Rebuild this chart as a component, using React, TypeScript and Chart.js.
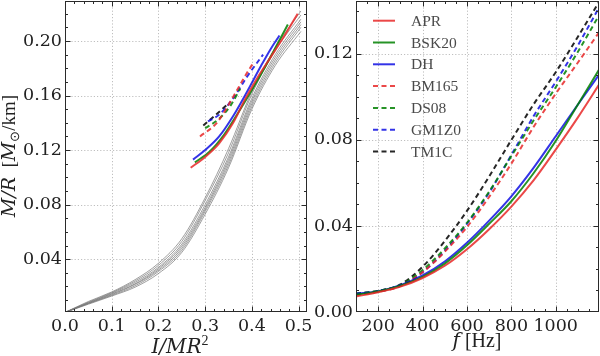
import React, { useEffect, useRef } from "react";
import { Chart, registerables } from "chart.js";

Chart.register(...registerables);

// ---------------- Left panel: M/R vs I/MR^2 ----------------
const grayX = [0, 0.05, 0.1, 0.15, 0.2, 0.25, 0.3, 0.35, 0.4, 0.45, 0.505];
const grayA = [0.001, 0.009, 0.016, 0.025, 0.037, 0.055, 0.085, 0.121, 0.163, 0.195, 0.222];
const grayB = [0.001, 0.0085, 0.0155, 0.024, 0.0355, 0.053, 0.083, 0.118, 0.161, 0.193, 0.219];
const grayC = [0.001, 0.008, 0.015, 0.023, 0.034, 0.051, 0.08, 0.115, 0.158, 0.19, 0.216];
const grayD = [0.001, 0.008, 0.0145, 0.022, 0.033, 0.0495, 0.078, 0.113, 0.156, 0.188, 0.214];
const grayE = [0.001, 0.0075, 0.014, 0.0215, 0.032, 0.048, 0.0765, 0.111, 0.154, 0.186, 0.212];
const grayF = [0.001, 0.0075, 0.0135, 0.0205, 0.031, 0.0465, 0.075, 0.109, 0.152, 0.184, 0.21];
const grayG = [0.001, 0.007, 0.013, 0.0195, 0.0295, 0.045, 0.073, 0.107, 0.15, 0.182, 0.207];
const grayCurves = [grayA, grayB, grayC, grayD, grayE, grayF, grayG];

const aprLeftX = [0.269, 0.3, 0.33, 0.36, 0.385, 0.41, 0.44, 0.47, 0.498];
const aprLeftY = [0.107, 0.115, 0.125, 0.14, 0.157, 0.172, 0.188, 0.204, 0.22];
const bsk20LeftX = [0.278, 0.31, 0.34, 0.37, 0.4, 0.43, 0.455, 0.477];
const bsk20LeftY = [0.111, 0.119, 0.131, 0.147, 0.164, 0.182, 0.198, 0.212];
const dhLeftX = [0.274, 0.3, 0.33, 0.36, 0.39, 0.42, 0.44, 0.459];
const dhLeftY = [0.113, 0.12, 0.13, 0.145, 0.163, 0.182, 0.194, 0.204];
const bm165LeftX = [0.289, 0.325, 0.36, 0.385, 0.405];
const bm165LeftY = [0.13, 0.14, 0.159, 0.174, 0.185];
const ds08LeftX = [0.3, 0.33, 0.355, 0.375];
const ds08LeftY = [0.136, 0.143, 0.153, 0.165];
const gm1z0LeftX = [0.306, 0.33, 0.36, 0.39, 0.424];
const gm1z0LeftY = [0.141, 0.146, 0.158, 0.174, 0.19];
const tm1cLeftX = [0.296, 0.32, 0.346];
const tm1cLeftY = [0.138, 0.145, 0.153];

const leftXTicks = [0, 0.1, 0.2, 0.3, 0.4, 0.5];
const leftYTicks = [0.04, 0.08, 0.12, 0.16, 0.2];

// ---------------- Right panel: M/R vs f ----------------
const freqHz = [100, 200, 300, 400, 500, 600, 700, 800, 900, 1000, 1100, 1200];
const aprRight = [0.0072, 0.0092, 0.0118, 0.0158, 0.0215, 0.0292, 0.0385, 0.049, 0.0612, 0.0755, 0.0905, 0.1065];
const bsk20Right = [0.008, 0.0095, 0.0122, 0.0163, 0.0225, 0.031, 0.041, 0.0515, 0.0645, 0.0795, 0.0965, 0.1135];
const dhRight = [0.0085, 0.0097, 0.0125, 0.017, 0.0235, 0.0322, 0.0425, 0.0538, 0.067, 0.0817, 0.0965, 0.111];
const bm165Right = [0.0078, 0.0094, 0.012, 0.0185, 0.028, 0.0395, 0.0535, 0.069, 0.086, 0.1015, 0.116, 0.1307];
const ds08Right = [0.0085, 0.0098, 0.0125, 0.0195, 0.0295, 0.0415, 0.056, 0.0725, 0.089, 0.1045, 0.121, 0.1388];
const gm1z0Right = [0.0085, 0.0096, 0.0122, 0.0185, 0.0285, 0.041, 0.0555, 0.073, 0.091, 0.107, 0.124, 0.1425];
const tm1cRight = [0.0085, 0.0098, 0.0128, 0.021, 0.033, 0.047, 0.063, 0.08, 0.0965, 0.1115, 0.128, 0.145];

const rightXTicks = [200, 400, 600, 800, 1000];
const rightYTicks = [0, 0.04, 0.08, 0.12];

const seriesNames = ["APR", "BSK20", "DH", "BM165", "DS08", "GM1Z0", "TM1C"];
const seriesColors = [
  "rgba(232,40,40,0.85)",
  "rgba(0,128,0,0.85)",
  "rgba(0,0,225,0.8)",
  "rgba(232,40,40,0.85)",
  "rgba(0,128,0,0.85)",
  "rgba(0,0,225,0.8)",
  "rgba(0,0,0,0.85)",
];
const seriesDashed = [false, false, false, true, true, true, true];
const leftSeriesX = [aprLeftX, bsk20LeftX, dhLeftX, bm165LeftX, ds08LeftX, gm1z0LeftX, tm1cLeftX];
const leftSeriesY = [aprLeftY, bsk20LeftY, dhLeftY, bm165LeftY, ds08LeftY, gm1z0LeftY, tm1cLeftY];
const rightSeriesY = [aprRight, bsk20Right, dhRight, bm165Right, ds08Right, gm1z0Right, tm1cRight];

const DASH = [5, 3.5];
const SERIF = '"DejaVu Serif", serif';
const LEGEND_FONT = '15.5px "Liberation Serif", serif';
const TICK_FONT = { family: SERIF, size: 17.5 };

const pts = (xs: number[], ys: number[]) => xs.map((x, i) => ({ x, y: ys[i] }));

type Run = { t: string; it?: boolean; sub?: boolean; sup?: boolean };

function runFont(r: Run, size: number) {
  const s = r.sub || r.sup ? size * 0.7 : size;
  const fam = r.it ? SERIF : '"Liberation Serif", serif';
  return `${r.it ? "italic " : ""}${s}px ${fam}`;
}

function drawRuns(ctx: CanvasRenderingContext2D, runs: Run[], cx: number, baseline: number, size: number) {
  let total = 0;
  for (const r of runs) {
    ctx.font = runFont(r, size);
    total += ctx.measureText(r.t).width;
  }
  let x = cx - total / 2;
  ctx.textAlign = "left";
  ctx.textBaseline = "alphabetic";
  for (const r of runs) {
    ctx.font = runFont(r, size);
    const dy = r.sub ? size * 0.22 : r.sup ? -size * 0.42 : 0;
    ctx.fillText(r.t, x, baseline + dy);
    x += ctx.measureText(r.t).width;
  }
}

function axesDecor(xMajor: number[], yMajor: number[], xMinorStep: number, yMinorStep: number) {
  return {
    id: "axesDecor",
    beforeDatasetsDraw(chart: any) {
      const { ctx, chartArea: a, scales } = chart;
      ctx.save();
      ctx.strokeStyle = "#b8b8b8";
      ctx.lineWidth = 0.9;
      ctx.setLineDash([1.2, 2]);
      ctx.beginPath();
      for (const v of xMajor) {
        const px = Math.round(scales.x.getPixelForValue(v)) + 0.5;
        if (px <= a.left + 1 || px >= a.right - 1) continue;
        ctx.moveTo(px, a.top);
        ctx.lineTo(px, a.bottom);
      }
      for (const v of yMajor) {
        const py = Math.round(scales.y.getPixelForValue(v)) + 0.5;
        if (py <= a.top + 1 || py >= a.bottom - 1) continue;
        ctx.moveTo(a.left, py);
        ctx.lineTo(a.right, py);
      }
      ctx.stroke();
      ctx.restore();
    },
    afterDatasetsDraw(chart: any) {
      const { ctx, chartArea: a, scales } = chart;
      const xs = scales.x;
      const ys = scales.y;
      ctx.save();
      ctx.strokeStyle = "#2a2a2a";
      ctx.lineWidth = 1;
      ctx.setLineDash([]);
      const L = Math.round(a.left) + 0.5;
      const R = Math.round(a.right) - 0.5;
      const T = Math.round(a.top) + 0.5;
      const B = Math.round(a.bottom) - 0.5;
      ctx.strokeRect(L, T, R - L, B - T);
      ctx.beginPath();
      const xTick = (v: number, len: number) => {
        const px = Math.round(xs.getPixelForValue(v)) + 0.5;
        if (px < L || px > R) return;
        ctx.moveTo(px, B);
        ctx.lineTo(px, B - len);
        ctx.moveTo(px, T);
        ctx.lineTo(px, T + len);
      };
      const yTick = (v: number, len: number) => {
        const py = Math.round(ys.getPixelForValue(v)) + 0.5;
        if (py < T || py > B) return;
        ctx.moveTo(L, py);
        ctx.lineTo(L + len, py);
        ctx.moveTo(R, py);
        ctx.lineTo(R - len, py);
      };
      for (let v = Math.ceil(xs.min / xMinorStep - 1e-9) * xMinorStep; v <= xs.max + 1e-9; v += xMinorStep) xTick(v, 2.5);
      for (let v = Math.ceil(ys.min / yMinorStep - 1e-9) * yMinorStep; v <= ys.max + 1e-9; v += yMinorStep) yTick(v, 2.5);
      for (const v of xMajor) xTick(v, 5);
      for (const v of yMajor) yTick(v, 5);
      ctx.stroke();
      ctx.restore();
    },
  };
}

function titlesPlugin(draw: (ctx: CanvasRenderingContext2D, chart: any) => void) {
  return {
    id: "titles",
    afterDraw(chart: any) {
      const ctx = chart.ctx;
      ctx.save();
      ctx.fillStyle = "#222";
      draw(ctx, chart);
      ctx.restore();
    },
  };
}

const legendPlugin = {
  id: "insideLegend",
  afterDraw(chart: any) {
    const { ctx, chartArea: a } = chart;
    ctx.save();
    seriesNames.forEach((name, i) => {
      const y = a.top + 19.7 + i * 21.8;
      ctx.beginPath();
      ctx.strokeStyle = seriesColors[i];
      ctx.lineWidth = 2;
      ctx.setLineDash(seriesDashed[i] ? DASH : []);
      ctx.moveTo(a.left + 17, y);
      ctx.lineTo(a.left + 39, y);
      ctx.stroke();
      ctx.setLineDash([]);
      ctx.fillStyle = "#4a4a4a";
      ctx.font = LEGEND_FONT;
      ctx.textAlign = "left";
      ctx.textBaseline = "middle";
      ctx.fillText(name, a.left + 55, y + 1);
    });
    ctx.restore();
  },
};

function makeScales(
  xMin: number,
  xMax: number,
  yMin: number,
  yMax: number,
  xTicks: number[],
  yTicks: number[],
  yWidth: number,
  xFmt: (v: number) => string,
  yFmt: (v: number) => string
) {
  return {
    x: {
      type: "linear",
      bounds: "data",
      min: xMin,
      max: xMax,
      grid: { display: false, drawTicks: false },
      border: { display: false },
      afterBuildTicks: (s: any) => {
        s.ticks = xTicks.map((value) => ({ value }));
      },
      afterFit: (s: any) => {
        s.height = 44;
        s.paddingLeft = 0;
        s.paddingRight = 0;
      },
      ticks: {
        font: TICK_FONT,
        color: "#222",
        padding: 4,
        maxRotation: 0,
        autoSkip: false,
        callback: (v: any) => xFmt(Number(v)),
      },
    },
    y: {
      type: "linear",
      bounds: "data",
      min: yMin,
      max: yMax,
      grid: { display: false, drawTicks: false },
      border: { display: false },
      afterBuildTicks: (s: any) => {
        s.ticks = yTicks.map((value) => ({ value }));
      },
      afterFit: (s: any) => {
        s.width = yWidth;
        s.paddingTop = 0;
        s.paddingBottom = 0;
      },
      ticks: {
        font: TICK_FONT,
        color: "#222",
        padding: 3,
        autoSkip: false,
        callback: (v: any) => yFmt(Number(v)),
      },
    },
  };
}

function leftConfig(): any {
  const datasets: any[] = [];
  grayCurves.forEach((ys) => {
    datasets.push({
      data: pts(grayX, ys),
      borderColor: "rgba(120,120,120,0.72)",
      borderWidth: 1,
      pointRadius: 0,
      showLine: true,
      cubicInterpolationMode: "monotone",
      order: 10,
    });
  });
  seriesNames.forEach((name, i) => {
    datasets.push({
      label: name,
      data: pts(leftSeriesX[i], leftSeriesY[i]),
      borderColor: seriesColors[i],
      borderWidth: 2,
      borderDash: seriesDashed[i] ? DASH : [],
      pointRadius: 0,
      showLine: true,
      cubicInterpolationMode: "monotone",
      order: 1,
    });
  });
  return {
    type: "scatter",
    data: { datasets },
    options: {
      responsive: false,
      maintainAspectRatio: false,
      animation: false,
      layout: { padding: { top: 1, right: 13, left: 0, bottom: 0 } },
      plugins: { legend: { display: false }, tooltip: { enabled: false } },
      scales: makeScales(0, 0.518, 0.0013, 0.2293, leftXTicks, leftYTicks, 65, (v) => v.toFixed(1), (v) => v.toFixed(2)),
    },
    plugins: [
      axesDecor(leftXTicks, leftYTicks, 0.02, 0.01),
      titlesPlugin((ctx) => {
        drawRuns(ctx, [{ t: "I/MR", it: true }, { t: "2", sup: true }], 180, 353, 20);
        ctx.translate(15, 156);
        ctx.rotate(-Math.PI / 2);
        drawRuns(
          ctx,
          [
            { t: "M/R", it: true },
            { t: "  [" },
            { t: "M", it: true },
            { t: "\u2299", sub: true },
            { t: "/km]" },
          ],
          0,
          0,
          19
        );
      }),
    ],
  };
}

function rightConfig(): any {
  const datasets = seriesNames.map((name, i) => ({
    label: name,
    data: pts(freqHz, rightSeriesY[i]),
    borderColor: seriesColors[i],
    borderWidth: 2,
    borderDash: seriesDashed[i] ? DASH : [],
    pointRadius: 0,
    showLine: true,
    cubicInterpolationMode: "monotone",
  }));
  return {
    type: "scatter",
    data: { datasets },
    options: {
      responsive: false,
      maintainAspectRatio: false,
      animation: false,
      layout: { padding: { top: 1, right: 1, left: 0, bottom: 0 } },
      plugins: { legend: { display: false }, tooltip: { enabled: false } },
      scales: makeScales(100, 1195, 0, 0.1446, rightXTicks, rightYTicks, 56, (v) => String(Math.round(v)), (v) => v.toFixed(2)),
    },
    plugins: [
      axesDecor(rightXTicks, rightYTicks, 50, 0.01),
      legendPlugin,
      titlesPlugin((ctx) => {
        drawRuns(ctx, [{ t: "f", it: true }, { t: " [Hz]" }], 177, 347, 20);
      }),
    ],
  };
}

export default function App() {
  const leftRef = useRef<HTMLCanvasElement>(null);
  const rightRef = useRef<HTMLCanvasElement>(null);
  useEffect(() => {
    const l = new Chart(leftRef.current as HTMLCanvasElement, leftConfig());
    const r = new Chart(rightRef.current as HTMLCanvasElement, rightConfig());
    return () => {
      l.destroy();
      r.destroy();
    };
  }, []);
  return (
    <div style={{ position: "absolute", left: 0, top: 0, width: 600, height: 356, background: "#fff", overflow: "hidden" }}>
      <canvas
        ref={leftRef}
        width={320}
        height={356}
        style={{ position: "absolute", left: 0, top: 0, width: 320, height: 356 }}
      />
      <canvas
        ref={rightRef}
        width={300}
        height={356}
        style={{ position: "absolute", left: 300, top: 0, width: 300, height: 356 }}
      />
    </div>
  );
}
